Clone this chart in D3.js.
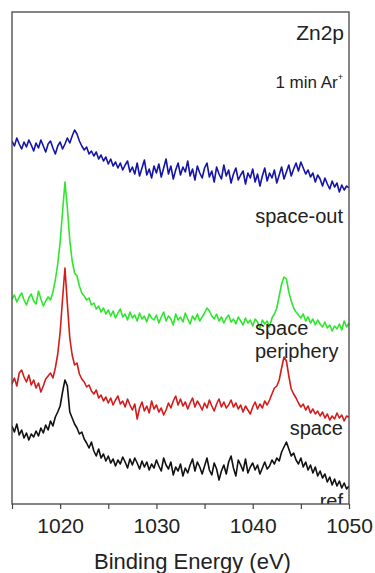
<!DOCTYPE html>
<html>
<head>
<meta charset="utf-8">
<script src="https://cdn.jsdelivr.net/npm/d3@7"></script>
<style>
  body { margin: 0; background: #fff; }
  svg { display: block; font-family: "Liberation Sans", Arial, sans-serif; }
</style>
</head>
<body>
<div id="chart"></div>
<script>
// binding energy grid, 0.25 eV steps from 1015 to 1050
const energy = d3.range(141).map(i => 1015 + i * 0.25);

// intensities (arb. units, already stacked with offsets)
const spaceOut = [
  363, 358, 366, 360, 355, 362, 357, 364, 359, 353,
  361, 356, 364, 358, 352, 360, 363, 356, 350, 358,
  362, 355, 360, 366, 361, 368, 374, 370, 363, 358,
  354, 357, 350, 353, 348, 352, 345, 349, 343, 347,
  340, 345, 338, 342, 336, 341, 334, 339, 343, 332,
  337, 330, 341, 328, 336, 344, 329, 335, 326, 338,
  331, 340, 327, 336, 345, 330, 338, 325, 334, 341,
  329, 337, 332, 343, 328, 335, 324, 338, 331, 326,
  336, 341, 327, 333, 322, 337, 330, 325, 339, 328,
  334, 321, 330, 336, 324, 329, 333, 320, 331, 326,
  335, 322, 330, 318, 328, 336, 323, 331, 326, 334,
  321, 329, 337, 325, 332, 339, 328, 335, 341, 333,
  342, 336, 330, 334, 327, 331, 322, 329, 325, 318,
  326, 320, 315, 323, 317, 321, 312, 319, 314, 318, 316
];
const periphery = [
  205, 209, 202, 207, 211, 204, 199, 206, 210, 203,
  200, 213, 205, 198, 203, 207, 204, 212, 224, 240,
  262, 292, 322, 296, 264, 243, 231, 228, 218, 211,
  208, 204, 206, 199, 201, 195, 198, 192, 196, 190,
  194, 188, 193, 186, 191, 195, 187, 190, 184, 192,
  186, 189, 183, 191, 185, 188, 182, 190, 186, 184,
  189, 181, 187, 192, 183, 188, 185, 179, 190, 184,
  187, 182, 191, 185, 180, 188, 184, 190, 183, 187,
  191, 196, 193, 188, 185, 190, 183, 187, 181, 186,
  189, 182, 185, 180, 187, 183, 179, 186, 181, 184,
  178, 185, 182, 176, 184, 180, 183, 177, 186, 190,
  196, 208, 220, 227, 225, 212, 203, 196, 192, 189,
  186, 190, 183, 187, 181, 185, 179, 184, 180, 177,
  182, 176, 179, 173, 178, 175, 180, 174, 183, 177, 181
];
const space = [
  120, 126, 118, 131, 134, 127, 122, 129, 119, 124,
  116, 121, 112, 118, 125, 128, 131, 126, 136, 150,
  172, 205, 236, 200, 166, 149, 139, 141, 130, 125,
  122, 117, 119, 113, 110, 114, 106, 109, 103, 107,
  101, 106, 99, 104, 108, 100, 103, 97, 105, 99,
  94, 100, 85, 96, 102, 93, 98, 91, 103, 95,
  99, 92, 96, 89, 94, 101, 96, 103, 108, 99,
  105, 98, 102, 95, 101, 106, 97, 103, 99, 94,
  101, 96, 104, 98, 93, 100, 105, 97, 102, 96,
  99, 104, 97, 101, 95, 99, 92, 98, 94, 90,
  97, 102, 95, 100, 96, 103, 99, 104, 110, 116,
  118, 124, 136, 147, 143, 128, 115, 110, 106, 101,
  97, 100, 94, 98, 91, 95, 90, 93, 88, 92,
  86, 90, 84, 88, 85, 91, 86, 89, 83, 88, 87
];
const ref = [
  78, 72, 80, 69, 74, 66, 71, 64, 70, 67,
  73, 68, 76, 71, 79, 74, 83, 78, 87, 92,
  98, 112, 124, 118, 92, 86, 80, 76, 70, 72,
  65, 61, 56, 62, 53, 48, 55, 46, 50, 43,
  48, 41, 45, 38, 44, 40, 47, 42, 36, 45,
  39, 46, 41, 35, 43, 37, 42, 34, 40, 36,
  44, 38, 33, 46, 39, 35, 42, 29, 37, 33,
  40, 28, 36, 31, 39, 45, 33, 42, 37, 30,
  38, 46, 34, 29, 41, 35, 24, 33, 39, 30,
  42, 48, 36, 28, 44, 39, 33, 45, 31, 37,
  41, 34, 39, 30, 36, 42, 35, 38, 44, 40,
  46, 43, 52, 57, 62, 55, 48, 51, 44, 40,
  46, 37, 42, 34, 39, 31, 37, 28, 33, 26,
  30, 22, 27, 19, 25, 18, 23, 16, 21, 15, 18
];

const seriesColors = ["#1414a8", "#2ee62e", "#d41c1c", "#111111"];
const xTicks = [1015, 1020, 1025, 1030, 1035, 1040, 1045, 1050];

const width = 375, height = 573;
const margin = { top: 12, right: 26, bottom: 69, left: 12 };
const innerW = width - margin.left - margin.right;
const innerH = height - margin.top - margin.bottom;

const svg = d3.select("#chart").append("svg")
  .attr("width", width)
  .attr("height", height);

const g = svg.append("g")
  .attr("transform", `translate(${margin.left},${margin.top})`);

const x = d3.scaleLinear().domain([1015, 1050]).range([0, innerW]);
const y = d3.scaleLinear().domain([0, 492]).range([innerH, 0]);

g.append("clipPath").attr("id", "plot-clip")
  .append("rect").attr("width", innerW).attr("height", innerH);

const plot = g.append("g").attr("clip-path", "url(#plot-clip)");

const line = d3.line()
  .x((d, i) => x(energy[i]))
  .y(d => y(d));

[spaceOut, periphery, space, ref].forEach((vals, k) => {
  plot.append("path")
    .datum(vals)
    .attr("fill", "none")
    .attr("stroke", seriesColors[k])
    .attr("stroke-width", 1.6)
    .attr("stroke-linejoin", "round")
    .attr("d", line);
});

// curve labels
const labelFont = 20;
plot.append("text").text("space-out")
  .attr("x", innerW - 6).attr("y", 211)
  .attr("text-anchor", "end").attr("font-size", labelFont).attr("fill", "#222");
plot.append("text").text("space")
  .attr("x", 243).attr("y", 323)
  .attr("font-size", labelFont).attr("fill", "#222");
plot.append("text").text("periphery")
  .attr("x", 243).attr("y", 346)
  .attr("font-size", labelFont).attr("fill", "#222");
plot.append("text").text("space")
  .attr("x", innerW - 6).attr("y", 423)
  .attr("text-anchor", "end").attr("font-size", labelFont).attr("fill", "#222");
plot.append("text").text("ref")
  .attr("x", innerW - 6).attr("y", 496)
  .attr("text-anchor", "end").attr("font-size", labelFont).attr("fill", "#222");

// title labels in the corner
g.append("text").text("Zn2p")
  .attr("x", innerW - 5).attr("y", 28)
  .attr("text-anchor", "end").attr("font-size", 21).attr("fill", "#222");

const ar = g.append("text")
  .attr("x", innerW - 6).attr("y", 76)
  .attr("text-anchor", "end").attr("font-size", 17).attr("fill", "#222");
ar.append("tspan").text("1 min Ar");
ar.append("tspan").text("+")
  .attr("font-size", 9).attr("dy", -8);

// frame
g.append("rect")
  .attr("width", innerW).attr("height", innerH)
  .attr("fill", "none").attr("stroke", "#444").attr("stroke-width", 1.3);

// x axis
const xAxis = d3.axisBottom(x)
  .tickValues(xTicks)
  .tickFormat(d => d % 10 === 0 ? d : "")
  .tickSize(5)
  .tickSizeOuter(0)
  .tickPadding(9);

const ax = g.append("g")
  .attr("transform", `translate(0,${innerH})`)
  .call(xAxis);
ax.select(".domain").remove();
ax.selectAll("line").attr("stroke", "#444").attr("stroke-width", 1.2);
ax.selectAll("text")
  .attr("font-size", 21)
  .attr("fill", "#222")
  .style("font-family", "'Liberation Sans', Arial, sans-serif");

g.append("text").text("Binding Energy (eV)")
  .attr("x", innerW / 2 + 12).attr("y", innerH + 65)
  .attr("text-anchor", "middle").attr("font-size", 22).attr("fill", "#222");
</script>
</body>
</html>
